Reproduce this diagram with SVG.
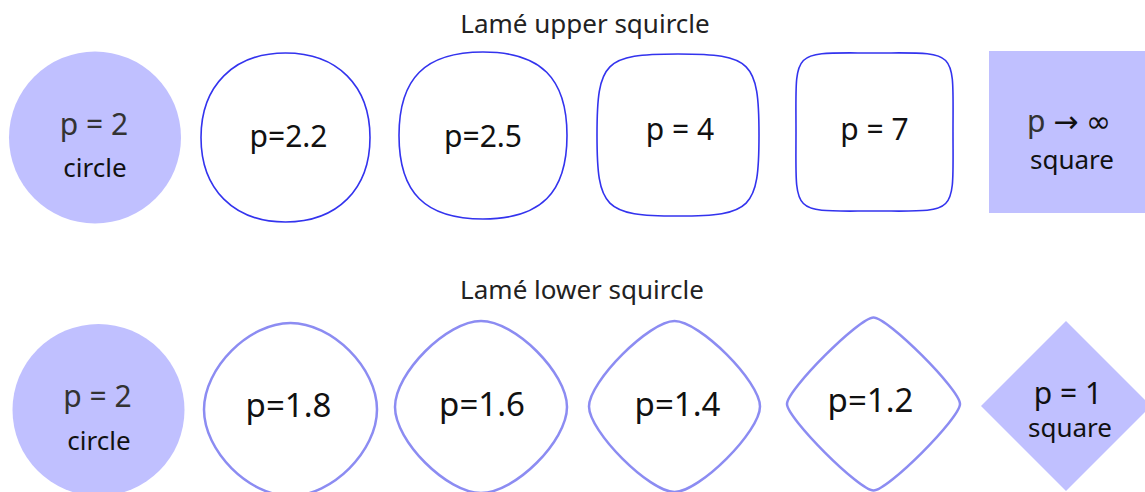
<svg xmlns="http://www.w3.org/2000/svg" width="1145" height="492" viewBox="0 0 1145 492">
  <style>
    text { font-family: "Noto Sans", "DejaVu Sans", sans-serif; text-anchor: middle; fill: #111; }
    .title { font-size: 26px; fill: #222; }
    .solid { fill: #c0c0ff; stroke: none; }
    .upper { fill: #fff; stroke: #3333ee; stroke-width: 1.6; }
    .lower { fill: #fff; stroke: #8c8cf2; stroke-width: 2.5; }
    .lbl { font-size: 30px; }
    .big { font-size: 33px; }
    .sub { font-size: 26px; }
    .dim { fill: #333; }
    .ink { fill: #111; }
  </style>

  <!-- Row titles -->
  <text class="title" x="585" y="33">Lamé upper squircle</text>
  <text class="title" x="582" y="299">Lamé lower squircle</text>

  <!-- Upper row: superellipses with p >= 2 (one cubic per quadrant) -->
  <g id="upper-p2">
    <circle class="solid" cx="95" cy="137.5" r="86"/>
    <text class="lbl dim" x="94" y="135">p = 2</text>
    <text class="sub" x="95" y="177">circle</text>
  </g>
  <g id="upper-p2_2" transform="translate(285.5,137.5)">
    <path class="upper" d="M84.5,0 C84.5,51.8 51.8,84.5 0,84.5 C-51.8,84.5 -84.5,51.8 -84.5,0 C-84.5,-51.8 -51.8,-84.5 0,-84.5 C51.8,-84.5 84.5,-51.8 84.5,0 Z"/>
    <text class="lbl" x="3" y="9.5">p=2.2</text>
  </g>
  <g id="upper-p2_5" transform="translate(483,135.5)">
    <path class="upper" d="M84,0 C84,57.4 57.8,83.5 0,83.5 C-57.8,83.5 -84,57.4 -84,0 C-84,-57.4 -57.8,-83.5 0,-83.5 C57.8,-83.5 84,-57.4 84,0 Z"/>
    <text class="lbl" x="0" y="11">p=2.5</text>
  </g>
  <g id="upper-p4" transform="translate(678,135)">
    <path class="upper" d="M81,0 C81,73.6 73.6,81 0,81 C-73.6,81 -81,73.6 -81,0 C-81,-73.6 -73.6,-81 0,-81 C73.6,-81 81,-73.6 81,0 Z"/>
    <text class="lbl" x="2" y="5">p = 4</text>
  </g>
  <g id="upper-p7" transform="translate(874.5,132)">
    <path class="upper" d="M78.5,0 C78.5,85.5 84.9,79 0,79 C-84.9,79 -78.5,85.5 -78.5,0 C-78.5,-85.5 -84.9,-79 0,-79 C84.9,-79 78.5,-85.5 78.5,0 Z"/>
    <text class="lbl" x="0" y="8">p = 7</text>
  </g>
  <g id="upper-pinf">
    <rect class="solid" x="989" y="51" width="156" height="162"/>
    <text class="lbl dim" x="1069" y="132">p <tspan class="ink">→ ∞</tspan></text>
    <text class="sub" x="1072" y="169">square</text>
  </g>

  <!-- Lower row: superellipses with p <= 2 -->
  <g id="lower-p2">
    <circle class="solid" cx="98.5" cy="410" r="86"/>
    <text class="lbl dim" x="97.5" y="407">p = 2</text>
    <text class="sub" x="99" y="450">circle</text>
  </g>
  <g id="lower-p1_8" transform="translate(290.5,409.5)">
    <path class="lower" d="M86.5,0 C86.5,41.6 41.6,86.5 0,86.5 C-41.6,86.5 -86.5,41.6 -86.5,0 C-86.5,-41.6 -41.6,-86.5 0,-86.5 C41.6,-86.5 86.5,-41.6 86.5,0 Z"/>
    <text class="big" x="-2" y="7.5">p=1.8</text>
  </g>
  <g id="lower-p1_6" transform="translate(481,407)">
    <path class="lower" d="M86,0 C86,34 34,86 0,86 C-34,86 -86,34 -86,0 C-86,-34 -34,-86 0,-86 C34,-86 86,-34 86,0 Z"/>
    <text class="big" x="1" y="9">p=1.6</text>
  </g>
  <g id="lower-p1_4" transform="translate(674.5,406.5)">
    <path class="lower" d="M85.5,0 C85.5,25 25,85.5 0,85.5 C-25,85.5 -85.5,25 -85.5,0 C-85.5,-25 -25,-85.5 0,-85.5 C25,-85.5 85.5,-25 85.5,0 Z"/>
    <text class="big" x="3" y="9.5">p=1.4</text>
  </g>
  <g id="lower-p1_2" transform="translate(873.5,404)">
    <path class="lower" d="M86.5,0 C86.5,14.1 14.1,86.5 0,86.5 C-14.1,86.5 -86.5,14.1 -86.5,0 C-86.5,-14.1 -14.1,-86.5 0,-86.5 C14.1,-86.5 86.5,-14.1 86.5,0 Z"/>
    <text class="big" x="-3" y="8">p=1.2</text>
  </g>
  <g id="lower-p1">
    <polygon class="solid" points="1066,321 1151,406 1066,491 981,406"/>
    <text class="lbl" x="1068" y="404">p = 1</text>
    <text class="sub" x="1070" y="437">square</text>
  </g>
</svg>
